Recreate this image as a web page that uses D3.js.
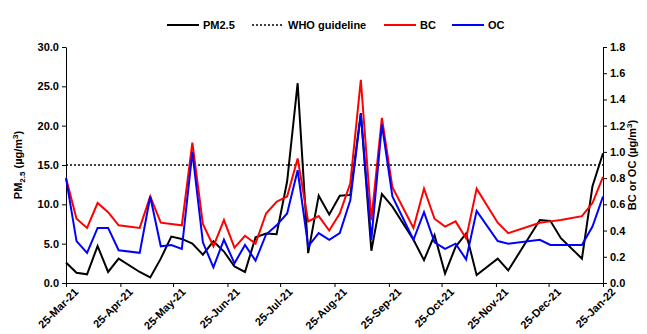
<!DOCTYPE html>
<html>
<head>
<meta charset="utf-8">
<script src="https://cdn.jsdelivr.net/npm/d3@7"></script>
<style>
  body { margin: 0; background: #fff; }
  svg { display: block; font-family: "Liberation Sans", Arial, sans-serif; }
  .axis text { font-size: 11px; font-weight: bold; fill: #000; }
  .axis path, .axis line { stroke: #000; stroke-width: 1; }
</style>
</head>
<body>
<svg id="chart" width="647" height="334"></svg>
<script>
// sampling dates (1-in-6 day schedule, some missing)
const dates = [
  '2021-03-25', '2021-03-31', '2021-04-06', '2021-04-12', '2021-04-18', '2021-04-24',
  '2021-05-06', '2021-05-12', '2021-05-18', '2021-05-24', '2021-05-30', '2021-06-05',
  '2021-06-11', '2021-06-17', '2021-06-23', '2021-06-29', '2021-07-05', '2021-07-11',
  '2021-07-17', '2021-07-23', '2021-07-29', '2021-08-04', '2021-08-10', '2021-08-16',
  '2021-08-22', '2021-08-28', '2021-09-03', '2021-09-09', '2021-09-15', '2021-09-21',
  '2021-09-27', '2021-10-09', '2021-10-15', '2021-10-21', '2021-10-27', '2021-11-02',
  '2021-11-08', '2021-11-14', '2021-11-26', '2021-12-02', '2021-12-20', '2021-12-26',
  '2022-01-01', '2022-01-13', '2022-01-19', '2022-01-25'
];
const pm25 = [
  2.6, 1.3, 1.1, 4.7, 1.4, 3.1, 1.4, 0.7, 3.1, 5.9, 5.6, 5.0,
  3.6, 5.3, 4.0, 2.1, 1.4, 5.8, 6.3, 6.2, 12.9, 25.4, 3.8, 11.1,
  8.7, 11.1, 11.2, 21.6, 4.1, 11.3, 9.7, 5.5, 2.9, 6.1, 1.2, 4.6,
  6.3, 1.0, 3.1, 1.6, 8.0, 7.9, 5.7, 3.1, 12.3, 16.5
];
const bc = [
  0.80, 0.49, 0.42, 0.61, 0.54, 0.44, 0.42, 0.66, 0.46, 0.45, 0.44, 1.07,
  0.45, 0.28, 0.48, 0.27, 0.36, 0.30, 0.53, 0.62, 0.66, 0.95, 0.47, 0.51,
  0.40, 0.53, 0.76, 1.55, 0.48, 1.26, 0.73, 0.42, 0.72, 0.49, 0.43, 0.47,
  0.34, 0.72, 0.46, 0.38, 0.46, 0.47, 0.48, 0.51, 0.61, 0.81
];
const oc = [
  0.80, 0.32, 0.23, 0.42, 0.42, 0.25, 0.23, 0.66, 0.28, 0.29, 0.26, 1.00,
  0.31, 0.12, 0.33, 0.15, 0.29, 0.17, 0.37, 0.44, 0.53, 0.86, 0.28, 0.38,
  0.33, 0.38, 0.63, 1.29, 0.33, 1.21, 0.66, 0.33, 0.54, 0.31, 0.26, 0.30,
  0.18, 0.55, 0.32, 0.30, 0.33, 0.29, 0.29, 0.29, 0.43, 0.66
];
const xTicks = [
  '2021-03-25', '2021-04-25', '2021-05-25', '2021-06-25', '2021-07-25', '2021-08-25',
  '2021-09-25', '2021-10-25', '2021-11-25', '2021-12-25', '2022-01-25'
];
const leftTicks = [0, 5, 10, 15, 20, 25, 30];
const rightTicks = [0, 0.2, 0.4, 0.6, 0.8, 1.0, 1.2, 1.4, 1.6, 1.8];
const whoGuideline = 15;

const parse = d3.timeParse('%Y-%m-%d');
const margin = { top: 47, right: 44, bottom: 51, left: 66 };
const width = 647, height = 334;

const svg = d3.select('#chart');

const x = d3.scaleTime()
  .domain([parse(xTicks[0]), parse(xTicks[xTicks.length - 1])])
  .range([margin.left, width - margin.right]);
const yL = d3.scaleLinear().domain([0, 30]).range([height - margin.bottom, margin.top]);
const yR = d3.scaleLinear().domain([0, 1.8]).range([height - margin.bottom, margin.top]);

// x axis
const xAxis = svg.append('g')
  .attr('class', 'axis')
  .attr('transform', `translate(0,${height - margin.bottom})`)
  .call(d3.axisBottom(x)
    .tickValues(xTicks.map(parse))
    .tickFormat(d3.timeFormat('%d-%b-%y'))
    .tickSize(4)
    .tickSizeOuter(0));
xAxis.selectAll('text')
  .attr('text-anchor', 'end')
  .attr('font-size', '10.5px')
  .attr('dx', 0)
  .attr('dy', '0.35em')
  .attr('transform', 'translate(5,2) rotate(-45)');

// left axis
svg.append('g')
  .attr('class', 'axis')
  .attr('transform', `translate(${margin.left},0)`)
  .call(d3.axisLeft(yL).tickValues(leftTicks).tickFormat(d3.format('.1f')).tickSize(4).tickSizeOuter(0));

// right axis
svg.append('g')
  .attr('class', 'axis')
  .attr('transform', `translate(${width - margin.right},0)`)
  .call(d3.axisRight(yR).tickValues(rightTicks).tickFormat(d3.format('.1f')).tickSize(4).tickSizeOuter(0));

// WHO guideline
svg.append('line')
  .attr('x1', x.range()[0]).attr('x2', x.range()[1])
  .attr('y1', yL(whoGuideline)).attr('y2', yL(whoGuideline))
  .attr('stroke', '#000').attr('stroke-width', 1.3)
  .attr('stroke-dasharray', '2,2');

const lineL = d3.line().x((d, i) => x(parse(dates[i]))).y(d => yL(d));
const lineR = d3.line().x((d, i) => x(parse(dates[i]))).y(d => yR(d));

svg.append('path').datum(pm25).attr('d', lineL)
  .attr('fill', 'none').attr('stroke', '#000').attr('stroke-width', 2);
svg.append('path').datum(bc).attr('d', lineR)
  .attr('fill', 'none').attr('stroke', '#ff0000').attr('stroke-width', 2);
svg.append('path').datum(oc).attr('d', lineR)
  .attr('fill', 'none').attr('stroke', '#0000ff').attr('stroke-width', 2);

// axis titles
const tL = svg.append('text')
  .attr('transform', `translate(22,${yL(15)}) rotate(-90)`)
  .attr('text-anchor', 'middle')
  .attr('font-size', 11).attr('font-weight', 'bold');
tL.append('tspan').text('PM');
tL.append('tspan').attr('font-size', 8).attr('dy', 3).text('2.5');
tL.append('tspan').attr('dy', -3).text(' (µg/m');
tL.append('tspan').attr('font-size', 8).attr('dy', -4).text('3');
tL.append('tspan').attr('dy', 4).text(')');

const tR = svg.append('text')
  .attr('transform', `translate(636,${yL(15)}) rotate(-90)`)
  .attr('text-anchor', 'middle')
  .attr('font-size', 11).attr('font-weight', 'bold');
tR.append('tspan').text('BC or OC  (µg/m');
tR.append('tspan').attr('font-size', 8).attr('dy', -4).text('3');
tR.append('tspan').attr('dy', 4).text(')');

// legend
const legendItems = [
  { label: 'PM2.5', color: '#000', dash: null, x: 167 },
  { label: 'WHO guideline', color: '#000', dash: '2,2', x: 252 },
  { label: 'BC', color: '#ff0000', dash: null, x: 384 },
  { label: 'OC', color: '#0000ff', dash: null, x: 452 }
];
const legendY = 25;
const lg = svg.append('g').selectAll('g').data(legendItems).join('g')
  .attr('transform', d => `translate(${d.x},${legendY})`);
lg.append('line')
  .attr('x1', 0).attr('x2', 32).attr('y1', 0).attr('y2', 0)
  .attr('stroke', d => d.color)
  .attr('stroke-width', d => d.dash ? 1.3 : 2)
  .attr('stroke-dasharray', d => d.dash);
lg.append('text')
  .attr('x', 36).attr('y', 4)
  .attr('font-size', 11).attr('font-weight', 'bold')
  .text(d => d.label);
</script>
</body>
</html>
